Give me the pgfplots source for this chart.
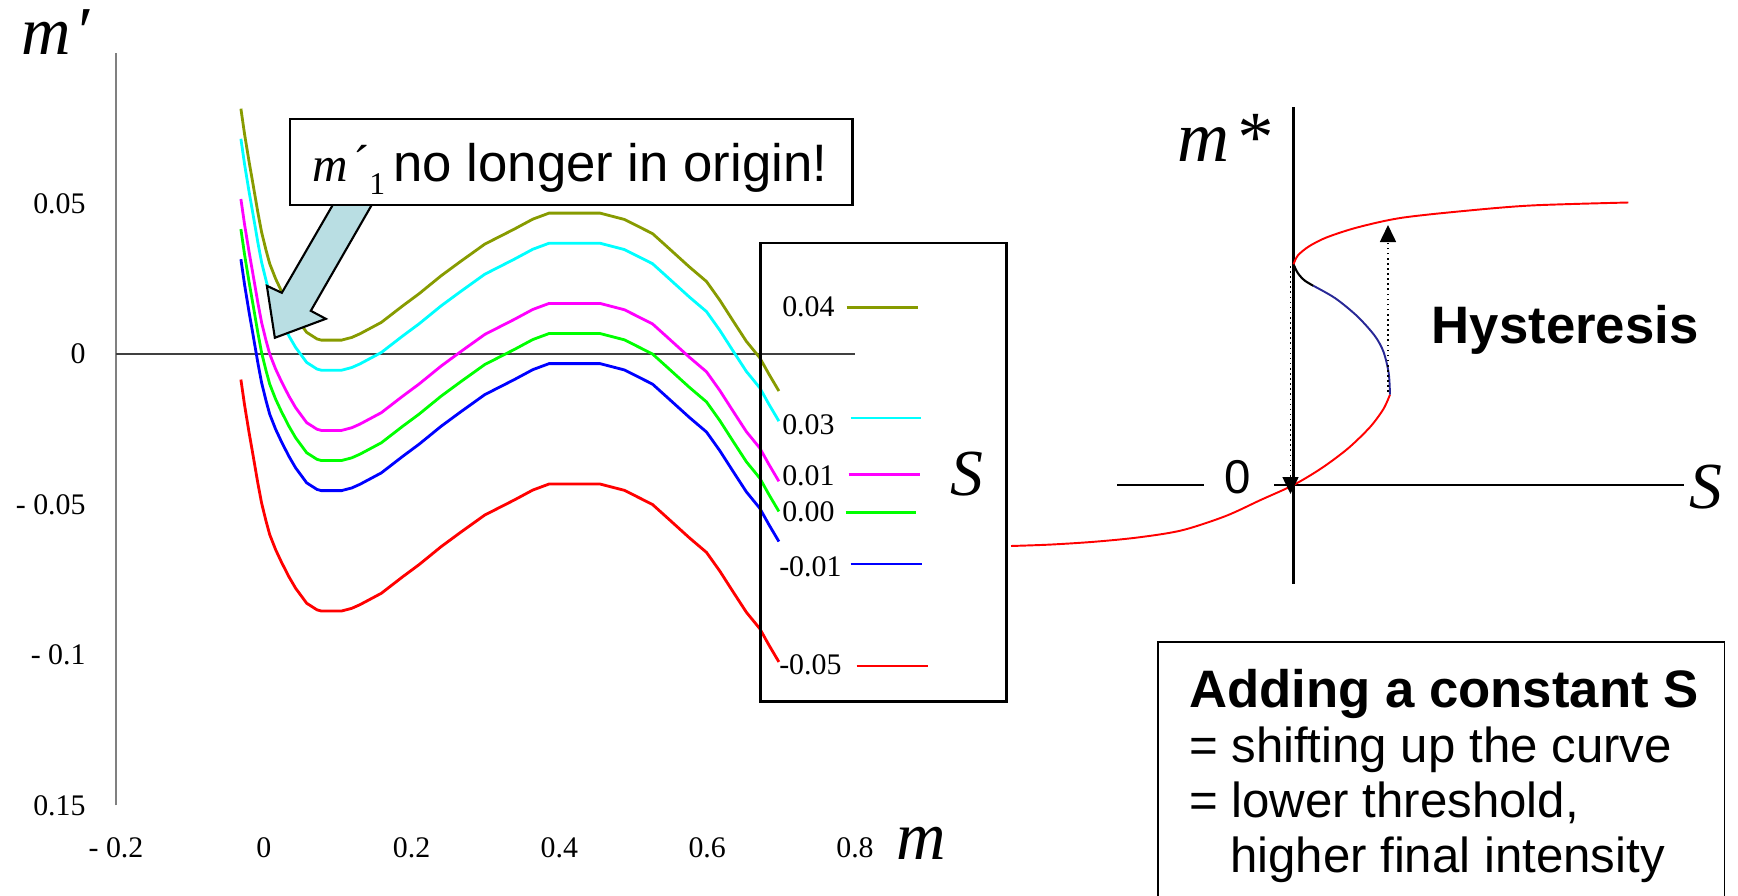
\documentclass[border=0pt]{standalone}
\usepackage{fontspec}
\setmainfont{Liberation Serif}
\newfontfamily\sans{Liberation Sans}
\usepackage{pgfplots}
\usepackage{pgfplotstable}
\pgfplotsset{compat=1.18}
\usetikzlibrary{arrows.meta}
\definecolor{curveolive}{RGB}{135,155,0}
\definecolor{curvecyan}{RGB}{0,255,255}
\definecolor{curvemagenta}{RGB}{255,0,255}
\definecolor{curvegreen}{RGB}{0,255,0}
\definecolor{curveblue}{RGB}{0,0,255}
\definecolor{curvered}{RGB}{255,0,0}
\definecolor{arrowfill}{RGB}{185,222,227}
\definecolor{unstable}{RGB}{40,40,150}
\newcommand\fs[1]{\fontsize{#1}{#1}\selectfont}

% m' = f(m) + S  for S = 0.04, 0.03, 0.01, 0.00, -0.01, -0.05
\pgfplotstableread{
m      sa      sb      sc      sd      se      sf
-0.031 0.0815  0.0715  0.0515  0.0415  0.0315  -0.0085
-0.026 0.0730  0.0630  0.0430  0.0330  0.0230  -0.0170
-0.020 0.0640  0.0540  0.0340  0.0240  0.0140  -0.0260
-0.015 0.0570  0.0470  0.0270  0.0170  0.0070  -0.0330
-0.008 0.0470  0.0370  0.0170  0.0070  -0.0030 -0.0430
-0.003 0.0405  0.0305  0.0105  0.0005  -0.0095 -0.0495
0.003  0.0345  0.0245  0.0045  -0.0055 -0.0155 -0.0555
0.008  0.0300  0.0200  0.0000  -0.0100 -0.0200 -0.0600
0.016  0.0250  0.0150  -0.0050 -0.0150 -0.0250 -0.0650
0.024  0.0208  0.0108  -0.0092 -0.0192 -0.0292 -0.0692
0.034  0.0160  0.0060  -0.0140 -0.0240 -0.0340 -0.0740
0.043  0.0122  0.0022  -0.0178 -0.0278 -0.0378 -0.0778
0.058  0.0072  -0.0028 -0.0228 -0.0328 -0.0428 -0.0828
0.072  0.0050  -0.0050 -0.0250 -0.0350 -0.0450 -0.0850
0.078  0.0046  -0.0054 -0.0254 -0.0354 -0.0454 -0.0854
0.105  0.0046  -0.0054 -0.0254 -0.0354 -0.0454 -0.0854
0.119  0.0055  -0.0045 -0.0245 -0.0345 -0.0445 -0.0845
0.130  0.0067  -0.0033 -0.0233 -0.0333 -0.0433 -0.0833
0.159  0.0105  0.0005  -0.0195 -0.0295 -0.0395 -0.0795
0.188  0.0160  0.0060  -0.0140 -0.0240 -0.0340 -0.0740
0.210  0.0200  0.0100  -0.0100 -0.0200 -0.0300 -0.0700
0.240  0.0260  0.0160  -0.0040 -0.0140 -0.0240 -0.0640
0.266  0.0307  0.0207  0.0007  -0.0093 -0.0193 -0.0593
0.299  0.0365  0.0265  0.0065  -0.0035 -0.0135 -0.0535
0.339  0.0415  0.0315  0.0115  0.0015  -0.0085 -0.0485
0.364  0.0448  0.0348  0.0148  0.0048  -0.0052 -0.0452
0.386  0.0468  0.0368  0.0168  0.0068  -0.0032 -0.0432
0.455  0.0468  0.0368  0.0168  0.0068  -0.0032 -0.0432
0.488  0.0447  0.0347  0.0147  0.0047  -0.0053 -0.0453
0.526  0.0400  0.0300  0.0100  0.0000  -0.0100 -0.0500
0.545  0.0358  0.0258  0.0058  -0.0042 -0.0142 -0.0542
0.576  0.0289  0.0189  -0.0011 -0.0111 -0.0211 -0.0611
0.599  0.0241  0.0141  -0.0059 -0.0159 -0.0259 -0.0659
0.617  0.0179  0.0079  -0.0121 -0.0221 -0.0321 -0.0721
0.635  0.0110  0.0010  -0.0190 -0.0290 -0.0390 -0.0790
0.653  0.0042  -0.0058 -0.0258 -0.0358 -0.0458 -0.0858
0.671  -0.0012 -0.0112 -0.0312 -0.0412 -0.0512 -0.0912
0.684  -0.0069 -0.0169 -0.0369 -0.0469 -0.0569 -0.0969
0.697  -0.0123 -0.0223 -0.0423 -0.0523 -0.0623 -0.1023
}\curves

\begin{document}
\begin{tikzpicture}
\path[use as bounding box] (0,0) rectangle (17.38cm,-8.96cm);

% ---------------- left chart ----------------
\begin{axis}[
  at={(1.16cm,-8.055cm)}, anchor=south west,
  scale only axis, width=7.39cm, height=7.525cm,
  xmin=-0.2, xmax=0.8, ymin=-0.15, ymax=0.1,
  axis lines=left, axis line style={-},
  x axis line style={draw=none},
  y axis line style={draw=gray, line width=0.5pt},
  major tick length=0pt,
  xtick={-0.2,0,0.2,0.4,0.6,0.8},
  xticklabels={- 0.2,0,0.2,0.4,0.6,0.8},
  ytick={-0.15,-0.1,-0.05,0,0.05},
  yticklabels={0.15,- 0.1,- 0.05,0,0.05},
  tick label style={font=\fs{8.5}},
  xticklabel style={yshift=-0.2cm},
  yticklabel style={xshift=-0.18cm},
]
\addplot[black!75, line width=0.4pt] coordinates {(-0.2,0) (0.8,0)};
\addplot[curveolive, line width=0.8pt] table[x=m,y=sa]{\curves};
\addplot[curvecyan, line width=0.8pt] table[x=m,y=sb]{\curves};
\addplot[curvemagenta, line width=0.8pt] table[x=m,y=sc]{\curves};
\addplot[curvegreen, line width=0.8pt] table[x=m,y=sd]{\curves};
\addplot[curveblue, line width=0.8pt] table[x=m,y=se]{\curves};
\addplot[curvered, line width=0.8pt] table[x=m,y=sf]{\curves};
\end{axis}

% ---------------- right chart (schematic) ----------------
\begin{axis}[
  at={(9.935cm,-6.05cm)}, anchor=south west,
  scale only axis, width=7.5cm, height=5.2cm,
  xmin=-3, xmax=4.5, ymin=-1.2, ymax=4,
  hide axis, clip=false,
]
\draw[line width=0.65pt] (axis cs:0,3.78) -- (axis cs:0,-0.99);
\draw[line width=0.65pt] (axis cs:-0.195,0) -- (axis cs:3.905,0);
\draw[line width=0.65pt] (axis cs:-1.765,0) -- (axis cs:-0.895,0);
\addplot[curvered, line width=0.55pt, smooth] coordinates {
 (-2.825,-0.61) (-2.435,-0.596) (-1.996,-0.568) (-1.558,-0.525) (-1.119,-0.454)
 (-0.680,-0.311) (-0.329,-0.15) (0,0) (0.285,0.171) (0.548,0.368) (0.768,0.582)
 (0.90,0.761) (0.965,0.904)};
\addplot[unstable, line width=0.55pt, smooth] coordinates {
 (0.965,0.904) (0.952,1.118) (0.90,1.332) (0.812,1.493) (0.636,1.689) (0.417,1.868) (0.197,1.993)};
\addplot[black, line width=0.6pt, smooth] coordinates {
 (0.197,1.993) (0.11,2.046) (0.044,2.118) (0,2.207)};
\addplot[curvered, line width=0.55pt, smooth] coordinates {
 (0,2.207) (0.044,2.296) (0.154,2.386) (0.329,2.475) (0.636,2.575) (1.075,2.671)
 (1.733,2.743) (2.391,2.796) (3.348,2.825)};
\draw[densely dotted, line width=0.45pt, -{Triangle[length=0.17cm,width=0.16cm]}]
  (axis cs:0.945,0.93) -- (axis cs:0.945,2.60);
\draw[densely dotted, line width=0.45pt, -{Triangle[length=0.17cm,width=0.16cm]}]
  (axis cs:-0.03,2.19) -- (axis cs:-0.03,-0.09);
\end{axis}

% ---------------- annotations (1 unit = 1 px of the reference) ----------------
\begin{scope}[x=0.01cm,y=-0.01cm]
% axis titles
\node[anchor=base west, inner sep=0] at (21,55) {\fs{19.5}\itshape m\kern1pt′};
\node[anchor=base west, inner sep=0] at (896,860) {\fs{19.5}\itshape m};
% callout arrow and box
\filldraw[fill=arrowfill, draw=black, line width=0.6pt, line join=miter]
  (333,205) -- (282,293) -- (267,286) -- (275,338) -- (326,319) -- (311,311) -- (372,205) -- cycle;
\filldraw[fill=white, draw=black, line width=0.7pt] (290,119.3) rectangle (853,205);
\node[anchor=base west, inner sep=0] at (312,181.5) {\fs{14}\itshape m};
\node[anchor=base west, inner sep=0] at (353,180) {\fs{14}´};
\node[anchor=base west, inner sep=0] at (369,195) {\fs{9}1};
\node[anchor=base west, inner sep=0] at (393,181.5) {\sans\fs{15}no longer in origin!};
% legend box
\draw[line width=0.7pt] (761,243) rectangle (1007,702);
\node[anchor=base west, inner sep=0] at (782,316.5) {\fs{8.5}0.04};
\node[anchor=base west, inner sep=0] at (782,434.5) {\fs{8.5}0.03};
\node[anchor=base west, inner sep=0] at (782,486) {\fs{8.5}0.01};
\node[anchor=base west, inner sep=0] at (782,522) {\fs{8.5}0.00};
\node[anchor=base west, inner sep=0] at (779,577) {\fs{8.5}-0.01};
\node[anchor=base west, inner sep=0] at (779,675) {\fs{8.5}-0.05};
\draw[curveolive, line width=0.7pt] (847,307.7) -- (919,307.7);
\draw[curvecyan, line width=0.7pt] (851,418.2) -- (922,418.2);
\draw[curvemagenta, line width=0.7pt] (849,474.6) -- (921,474.6);
\draw[curvegreen, line width=0.7pt] (846,512.8) -- (917,512.8);
\draw[curveblue, line width=0.7pt] (851,564.6) -- (923,564.6);
\draw[curvered, line width=0.7pt] (857,666.3) -- (929,666.3);
\node[anchor=base west, inner sep=0] at (950,496) {\fs{18.7}\itshape S};
% right chart labels
\node[anchor=base west, inner sep=0] at (1177,162) {\fs{20.5}\itshape m\kern1.5pt*};
\node[anchor=base west, inner sep=0] at (1224,493.5) {\sans\fs{13.5}0};
\node[anchor=base west, inner sep=0] at (1690,509) {\fs{18.7}\itshape S};
\node[anchor=base west, inner sep=0] at (1432,343.5) {\sans\bfseries\fs{15}Hysteresis};
% text box
\draw[line width=0.5pt] (1159,900) -- (1159,642) -- (1725.5,642) -- (1725.5,900);
\node[anchor=base west, inner sep=0] at (1189,708) {\sans\bfseries\fs{15}Adding a constant S};
\node[anchor=base west, inner sep=0] at (1189,763) {\sans\fs{14}= shifting up the curve};
\node[anchor=base west, inner sep=0] at (1189,818) {\sans\fs{14}= lower threshold,};
\node[anchor=base west, inner sep=0] at (1230,873) {\sans\fs{14}higher final intensity};
\end{scope}
\end{tikzpicture}
\end{document}
